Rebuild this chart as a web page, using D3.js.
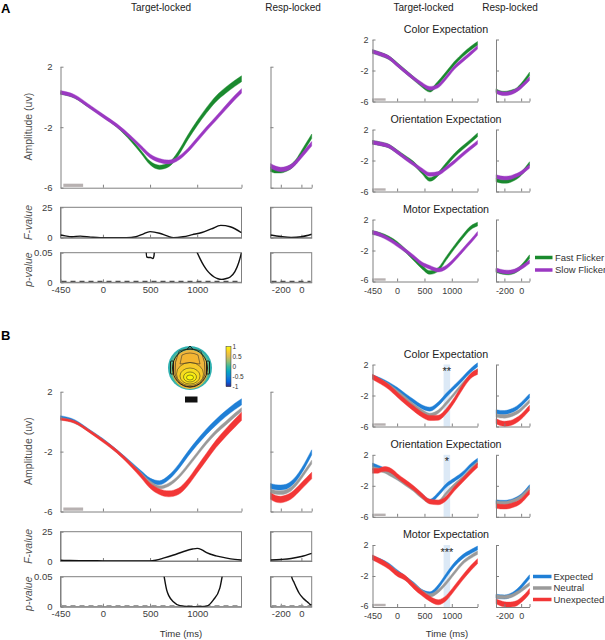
<!DOCTYPE html>
<html><head><meta charset="utf-8">
<script src="https://cdn.jsdelivr.net/npm/d3@7/dist/d3.min.js"></script>
<style>html,body{margin:0;padding:0;background:#fff;}</style>
</head><body>
<script>
// ================= DATA =================
// Panel A – main target-locked (ms, µV)
const tMain = [-450,-300,-150,0,150,300,400,500,600,700,800,900,1000,1100,1200,1300,1400,1470];
const fastMain = [0.24,-0.02,-0.64,-1.25,-1.94,-2.87,-3.6,-4.36,-4.65,-4.47,-3.73,-2.68,-1.73,-0.87,-0.12,0.43,0.9,1.2];
const slowMain = [0.3,0.03,-0.6,-1.25,-1.9,-2.7,-3.3,-3.9,-4.2,-4.3,-4.06,-3.53,-2.82,-2.1,-1.42,-0.72,-0.03,0.4];
const fastMainSem = [0.06,0.06,0.06,0.07,0.08,0.09,0.1,0.12,0.14,0.14,0.15,0.16,0.17,0.18,0.19,0.2,0.2,0.2];
const slowMainSem = [0.12,0.12,0.12,0.12,0.12,0.12,0.12,0.13,0.13,0.13,0.13,0.13,0.14,0.14,0.14,0.15,0.15,0.15];
// response-locked
const tResp = [-300,-250,-200,-150,-100,-50,0,50,100];
const fastResp = [-4.78,-4.88,-4.88,-4.78,-4.6,-4.25,-3.7,-3.15,-2.6];
const slowResp = [-4.55,-4.72,-4.8,-4.75,-4.6,-4.3,-3.9,-3.5,-3.1];
// F and p statistics, panel A
const tFA = [-450,-400,-330,-240,-130,-30,100,250,350,420,500,600,680,750,850,950,1050,1150,1250,1350,1470];
const fA = [2.2,1.5,0.8,1.3,0.5,0,0,0,0.8,2.8,5,3.7,1.5,0,0.8,2.5,4.3,7.2,10.1,9,4.1];
const tFRespA = [-300,-200,-100,0,100];
const fRespA = [2.2,1.0,0.3,0.8,2.8];
const tPA1 = [455,464,480,505,530,542,550];
const pA1 = [0.065,0.043,0.042,0.042,0.040,0.045,0.065];
const tPA2 = [995,1030,1070,1100,1140,1180,1220,1260,1300,1350,1400,1440,1470];
const pA2 = [0.052,0.04,0.028,0.021,0.014,0.009,0.006,0.005,0.006,0.009,0.018,0.033,0.05];
// Panel A – right column (by expectation type)
const tRight = [-450,-300,-150,0,150,300,450,600,750,900,1050,1200,1350,1470];
const colorFast = [0.45,0.1,-0.35,-1.2,-2.1,-3.0,-3.9,-4.55,-3.6,-2.35,-1.05,0.0,0.9,1.5];
const colorSlow = [0.45,0.1,-0.35,-1.25,-2.15,-3.0,-3.75,-4.3,-4.0,-2.9,-1.6,-0.65,0.25,1.0];
const orientFast = [0.35,0.15,-0.15,-0.85,-1.6,-2.35,-3.45,-4.45,-3.75,-2.5,-1.3,-0.35,0.55,1.3];
const orientSlow = [0.35,0.15,-0.15,-0.9,-1.7,-2.45,-3.2,-3.8,-3.67,-2.98,-2.15,-1.22,-0.35,0.35];
const motorFast = [0.33,0.05,-0.4,-1.07,-2.0,-3.05,-4.1,-4.84,-4.45,-3.0,-1.55,-0.2,0.95,1.4];
const motorSlow = [0.33,0.0,-0.55,-1.25,-2.0,-2.82,-3.7,-4.18,-4.53,-4.14,-3.15,-1.97,-0.8,0.2];
const colorRespFast = [-4.58,-4.85,-4.92,-4.85,-4.7,-4.45,-3.9,-3.2,-2.45];
const colorRespSlow = [-4.71,-4.92,-5.0,-4.95,-4.8,-4.5,-4.1,-3.6,-3.05];
const orientRespFast = [-4.5,-4.65,-4.7,-4.65,-4.45,-4.15,-3.7,-3.1,-2.4];
const orientRespSlow = [-4.06,-4.22,-4.28,-4.25,-4.1,-3.9,-3.6,-3.2,-2.75];
const motorRespFast = [-4.6,-4.75,-4.85,-4.9,-4.8,-4.55,-4.1,-3.5,-2.8];
const motorRespSlow = [-4.5,-4.65,-4.75,-4.78,-4.7,-4.5,-4.2,-3.85,-3.45];

// Panel B – main
const expMain = [0.32,0.05,-0.57,-1.22,-1.98,-2.8,-3.37,-3.9,-4.08,-3.72,-3.03,-2.17,-1.38,-0.66,-0.04,0.52,1.02,1.32];
const neuMain = [0.21,-0.05,-0.61,-1.25,-2.0,-2.85,-3.45,-4.05,-4.38,-4.2,-3.7,-2.96,-2.16,-1.37,-0.68,-0.12,0.44,0.8];
const unexpMain = [0.17,-0.02,-0.61,-1.28,-2.0,-2.9,-3.57,-4.28,-4.68,-4.82,-4.66,-4.06,-3.2,-2.33,-1.48,-0.76,-0.1,0.35];
const expMainSem = [0.08,0.08,0.08,0.09,0.1,0.11,0.12,0.13,0.14,0.15,0.16,0.17,0.18,0.19,0.2,0.2,0.21,0.21];
const neuMainSem = [0.07,0.07,0.07,0.08,0.08,0.09,0.09,0.1,0.1,0.11,0.11,0.12,0.12,0.12,0.13,0.13,0.13,0.13];
const unexpMainSem = [0.08,0.08,0.09,0.1,0.11,0.13,0.15,0.17,0.19,0.2,0.21,0.22,0.23,0.24,0.25,0.26,0.27,0.28];
const expResp = [-4.3,-4.38,-4.4,-4.35,-4.15,-3.8,-3.3,-2.7,-2.05];
const neuResp = [-4.63,-4.72,-4.74,-4.68,-4.5,-4.15,-3.7,-3.2,-2.7];
const unexpResp = [-4.97,-5.15,-5.2,-5.12,-4.95,-4.65,-4.3,-3.95,-3.6];
const tFB = [-450,-350,-250,-150,0,200,400,500,560,650,750,850,950,1000,1050,1100,1200,1300,1400,1470];
const fB = [0.6,0.4,0.3,0.3,0.1,0,0,0,0.6,2.6,5.1,7.9,10.2,10.8,9.5,7.1,4.4,2.7,1.4,0.85];
const tFRespB = [-300,-200,-100,0,100];
const fRespB = [0.85,1.3,2.1,3.8,6.5];
const tPB = [640,655,676,700,747,817,900,958,1030,1100,1170,1240,1270];
const pB = [0.06,0.045,0.028,0.018,0.0083,0.0017,0.0003,0,0.0002,0.001,0.011,0.031,0.055];
const tPRespB = [-105,-95,-70,-47,-20,17,50,67,83,100];
const pRespB = [0.06,0.05,0.04,0.031,0.022,0.014,0.009,0.0067,0.004,0.003];
// Panel B – right column
const colorExp = [0.41,0.0,-0.55,-1.2,-2.0,-2.75,-3.46,-3.76,-3.1,-1.95,-0.9,0.16,1.25,1.95];
const colorNeu = [0.41,-0.1,-0.7,-1.5,-2.35,-3.25,-4.0,-4.5,-4.1,-3.0,-1.76,-0.5,0.58,1.25];
const colorUnexp = [0.41,-0.2,-0.9,-1.87,-2.8,-3.66,-4.45,-4.9,-4.87,-4.0,-2.56,-0.85,0.55,1.05];
const tOrientB = [-450,-350,-280,-220,-150,-80,0,150,300,450,600,750,900,1050,1200,1350,1470];
const orientExp = [0.7,0.42,0.22,0.04,-0.27,-0.57,-0.94,-1.6,-2.32,-3.22,-3.97,-3.1,-1.94,-1.2,-0.43,0.65,1.3];
const orientNeu = [0.27,0.1,-0.02,-0.16,-0.44,-0.72,-1.04,-1.77,-2.5,-3.43,-4.05,-4.06,-2.98,-1.9,-1.0,0.15,0.95];
const orientUnexp = [-0.08,-0.08,0.1,0.18,0.08,-0.2,-0.7,-1.5,-2.28,-3.22,-4.05,-4.15,-3.6,-2.35,-1.25,-0.15,0.65];
const motorExp = [0.39,-0.05,-0.6,-1.45,-2.25,-3.05,-3.98,-4.3,-3.4,-1.9,-0.5,0.5,1.15,1.6];
const motorNeu = [0.39,-0.1,-0.7,-1.54,-2.3,-3.1,-3.98,-4.5,-3.96,-2.87,-1.55,-0.3,0.5,1.0];
const motorUnexp = [0.39,-0.15,-0.8,-1.7,-2.25,-3.3,-4.2,-4.95,-5.39,-4.83,-3.55,-2.2,-0.95,-0.1];
const colorRespExp = [-4.1,-4.18,-4.2,-4.1,-3.9,-3.6,-3.15,-2.6,-2.05];
const colorRespNeu = [-4.6,-4.68,-4.7,-4.62,-4.45,-4.2,-3.8,-3.3,-2.75];
const colorRespUnexp = [-5.3,-5.55,-5.65,-5.6,-5.45,-5.15,-4.75,-4.2,-3.6];
const orientRespExp = [-4.05,-4.1,-4.12,-4.05,-3.9,-3.65,-3.3,-2.75,-2.1];
const orientRespNeu = [-4.15,-4.2,-4.22,-4.15,-4.0,-3.75,-3.4,-2.9,-2.3];
const orientRespUnexp = [-4.6,-4.68,-4.7,-4.65,-4.5,-4.3,-3.95,-3.4,-2.8];
const motorRespExp = [-4.6,-4.68,-4.7,-4.6,-4.35,-3.95,-3.4,-2.75,-2.1];
const motorRespNeu = [-4.65,-4.7,-4.72,-4.65,-4.5,-4.2,-3.85,-3.45,-3.05];
const motorRespUnexp = [-5.25,-5.5,-5.65,-5.7,-5.65,-5.5,-5.1,-4.6,-3.95];

const sigWindow = [850, 970];
const sigStars = ["**", "*", "***"];
const baselineWin = [-420, -210];
const panelTitles = ["Color Expectation", "Orientation Expectation", "Motor Expectation"];
const legendA = ["Fast Flicker", "Slow Flicker"];
const legendB = ["Expected", "Neutral", "Unexpected"];
const yTicks = [-6, -2, 2];
const cbTicks = [1, 0.5, 0, -0.5, -1];

// ================= STYLE =================
const FONT = "'Liberation Sans', Arial, Helvetica, sans-serif";
const AX = "#808080", TXT = "#404040";
const C = {fast:"#1a8a2e", slow:"#9b38c2", exp:"#1f7fd6", neu:"#9a9a9a", unexp:"#f23636"};

const svg = d3.select("body").append("svg").attr("width",605).attr("height",640)
  .style("display","block").style("font-family",FONT);

function sc(x0,x1,yTop,yBot,xd,yd){
  return {x:d3.scaleLinear().domain(xd).range([x0,x1]), y:d3.scaleLinear().domain(yd).range([yBot,yTop]), x0,x1,yTop,yBot};
}
function styleAxis(g,fs){
  g.attr("font-family",FONT).attr("font-size",null);
  g.select(".domain").attr("stroke",AX);
  g.selectAll(".tick line").attr("stroke",AX);
  g.selectAll(".tick text").attr("fill",TXT).style("font-size",(fs||9.5)+"px");
}
const noLab = () => "";
const lab = d => String(d);
function leftAxis(s, vals, fmt, pad, fs){
  const g = svg.append("g").attr("transform",`translate(${s.x0},0)`)
    .call(d3.axisLeft(s.y).tickValues(vals).tickSize(-3).tickSizeOuter(0).tickPadding(pad||5).tickFormat(fmt||noLab));
  styleAxis(g,fs); return g;
}
function bottomAxis(s, vals, fmt, pad, fs){
  const g = svg.append("g").attr("transform",`translate(0,${s.yBot})`)
    .call(d3.axisBottom(s.x).tickValues(vals).tickSize(-3).tickSizeOuter(0).tickPadding(pad||5).tickFormat(fmt||noLab));
  styleAxis(g,fs); return g;
}
function box(s){
  svg.append("rect").attr("x",s.x0).attr("y",s.yTop).attr("width",s.x1-s.x0).attr("height",s.yBot-s.yTop)
    .attr("fill","none").attr("stroke",AX);
}
function band(s, t, m, e, color){
  const data = t.map((d,i)=>({t:d, m:m[i], e:Array.isArray(e)?e[i]:e}));
  const a = d3.area().x(d=>s.x(d.t)).y0(d=>s.y(d.m-d.e)).y1(d=>s.y(d.m+d.e)).curve(d3.curveMonotoneX);
  svg.append("path").datum(data).attr("d",a).attr("fill",color).attr("stroke",color).attr("stroke-width",0.4);
}
let clipN = 0;
function clipFor(s){
  const id = "clip"+(clipN++);
  svg.append("clipPath").attr("id",id).append("rect").attr("x",s.x0).attr("y",s.yTop)
    .attr("width",s.x1-s.x0).attr("height",s.yBot-s.yTop);
  return id;
}
function statLine(s, t, v, clipId){
  const data = t.map((d,i)=>({t:d, v:v[i]}));
  const l = d3.line().x(d=>s.x(d.t)).y(d=>s.y(d.v)).curve(d3.curveMonotoneX);
  const p = svg.append("path").datum(data).attr("d",l).attr("fill","none").attr("stroke","#111").attr("stroke-width",1.4);
  if (clipId) p.attr("clip-path",`url(#${clipId})`);
}
function baselineBar(s, h){
  svg.append("rect").attr("x",s.x(baselineWin[0])).attr("width",s.x(baselineWin[1])-s.x(baselineWin[0]))
    .attr("y",s.yBot-h-0.8).attr("height",h).attr("fill","#b7b1b1");
}
function zeroDash(s, color){
  svg.append("line").attr("x1",s.x0+1).attr("x2",s.x1-1).attr("y1",s.yBot-1).attr("y2",s.yBot-1)
    .attr("stroke",color).attr("stroke-width",1.2).attr("stroke-dasharray","5,4");
}
function txt(x,y,s,o){
  o=o||{};
  const t = svg.append("text").attr("x",x).attr("y",y).text(s).attr("fill",o.fill||"#222")
    .style("font-size",(o.size||10)+"px").attr("text-anchor",o.anchor||"middle");
  if(o.weight) t.style("font-weight",o.weight);
  if(o.italic) t.style("font-style","italic");
  if(o.rot) t.attr("transform",`rotate(-90,${x},${y})`).attr("dominant-baseline","central");
  return t;
}

// ================= HEADERS =================
txt(1,13,"A",{size:13,weight:"bold",anchor:"start",fill:"#000"});
txt(1,340,"B",{size:13,weight:"bold",anchor:"start",fill:"#000"});
txt(161,11,"Target-locked",{size:10});
txt(293,11,"Resp-locked",{size:10});
txt(423.5,11,"Target-locked",{size:10});
txt(510,11,"Resp-locked",{size:10});

// ================= GENERIC SECTION =================
function section(off, mainSeries, respSeries, fT, fV, fRT, fRV, pSegs, pRespSegs, dashColor){
  const mTop = 66.7+off, mBot = 187.7+off - (off?1.2:0);
  const main = sc(60.5,241.5,mTop,mBot,[-450,1470],[-6,2]);
  const resp = sc(270.5,311.7,mTop,mBot,[-300,100],[-6,2]);
  baselineBar(main,3.2);
  mainSeries.forEach(d=>band(main,tMain,d.v,d.e,d.c));
  respSeries.forEach(d=>band(resp,tResp,d.v,d.e,d.c));
  leftAxis(main,yTicks,lab,8);
  bottomAxis(main,[0,500,1000,1470]);
  leftAxis(resp,yTicks);
  bottomAxis(resp,[-200,0,100]);
  txt(28,main.y(-2)-0.5,"Amplitude (uv)",{size:10.5,rot:true,fill:"#505050"});

  const fTop = off? 531.7 : 207.3, fBot = off? 561 : 237.7;
  const pTop = off? 576.7 : 252.7, pBot = off? 606.7 : 282.3;
  const fM = sc(60.5,241.5,fTop,fBot,[-450,1470],[0,25]);
  const fR = sc(270.5,311.7,fTop,fBot,[-300,100],[0,25]);
  const pM = sc(60.5,241.5,pTop,pBot,[-450,1470],[0,0.05]);
  const pR = sc(270.5,311.7,pTop,pBot,[-300,100],[0,0.05]);
  [fM,fR,pM,pR].forEach(box);
  leftAxis(fM,[0,25],lab,8); leftAxis(pM,[0,0.05],lab,8);
  leftAxis(fR,[0,25]); leftAxis(pR,[0,0.05]);
  bottomAxis(fM,[0,500,1000]); bottomAxis(fR,[-200,0]);
  bottomAxis(pM,[-450,0,500,1000],lab,4); bottomAxis(pR,[-200,0],lab,4);
  zeroDash(pM,dashColor); zeroDash(pR,dashColor);
  statLine(fM,fT,fV,clipFor(fM));
  statLine(fR,fRT,fRV,clipFor(fR));
  const cM = clipFor(pM), cR = clipFor(pR);
  pSegs.forEach(sg=>statLine(pM,sg[0],sg[1],cM));
  pRespSegs.forEach(sg=>statLine(pR,sg[0],sg[1],cR));
  txt(28,(fTop+fBot)/2,"F-value",{size:10.5,rot:true,italic:true,fill:"#505050"});
  txt(28,(pTop+pBot)/2+2,"p-value",{size:10.5,rot:true,italic:true,fill:"#505050"});
}

function rightColumn(tops, groups, tgtTimes, stars){
  tops.forEach((top,k)=>{
    const tg = sc(372.5,477.5,top,top+62,[-450,1470],[-6,2]);
    const rp = sc(496,529.5,top,top+62,[-300,100],[-6,2]);
    txt(446,top-7,panelTitles[k],{size:10.7,fill:"#222"});
    if(stars){
      svg.append("rect").attr("x",tg.x(sigWindow[0])).attr("width",tg.x(sigWindow[1])-tg.x(sigWindow[0]))
        .attr("y",tg.yTop).attr("height",62).attr("fill","#dce9f6");
      txt(tg.x((sigWindow[0]+sigWindow[1])/2),top+10.5,stars[k],{size:11,fill:"#222"});
    }
    baselineBar(tg,2.4);
    groups[k].tgt.forEach(d=>band(tg,tgtTimes[k],d.v,d.e,d.c));
    groups[k].resp.forEach(d=>band(rp,tResp,d.v,d.e,d.c));
    const ya = leftAxis(tg,yTicks,lab,4,9);
    leftAxis(rp,yTicks);
    const last = k===tops.length-1;
    if(last){
      // lift the lowest y label a little so it clears the x tick labels below it
      ya.selectAll(".tick text").filter(d=>d===-6).attr("dy","0.12em");
    }
    bottomAxis(tg,[-450,0,500,1000,1470], last? (d=>d===1470?"":String(d)) : noLab, 6, 9);
    bottomAxis(rp,[-200,0,100], last? (d=>d===100?"":String(d)) : noLab, 6, 9);
  });
}

// ================= PANEL A =================
section(0,
  [{v:fastMain,e:fastMainSem,c:C.fast},{v:slowMain,e:slowMainSem,c:C.slow}],
  [{v:fastResp,e:0.15,c:C.fast},{v:slowResp,e:0.15,c:C.slow}],
  tFA,fA,tFRespA,fRespA,[[tPA1,pA1],[tPA2,pA2]],[],"#505050");

rightColumn([39.5,129.5,219.5],[
  {tgt:[{v:colorFast,e:0.24,c:C.fast},{v:colorSlow,e:0.24,c:C.slow}], resp:[{v:colorRespFast,e:0.24,c:C.fast},{v:colorRespSlow,e:0.24,c:C.slow}]},
  {tgt:[{v:orientFast,e:0.24,c:C.fast},{v:orientSlow,e:0.24,c:C.slow}], resp:[{v:orientRespFast,e:0.24,c:C.fast},{v:orientRespSlow,e:0.24,c:C.slow}]},
  {tgt:[{v:motorFast,e:0.24,c:C.fast},{v:motorSlow,e:0.24,c:C.slow}], resp:[{v:motorRespFast,e:0.24,c:C.fast},{v:motorRespSlow,e:0.24,c:C.slow}]}
],[tRight,tRight,tRight],null);

// legend A
[C.fast,C.slow].forEach((c,i)=>{
  const y = 257.5 + i*12.5;
  svg.append("line").attr("x1",535).attr("x2",552.5).attr("y1",y).attr("y2",y).attr("stroke",c).attr("stroke-width",3.5);
  txt(555,y+3.3,legendA[i],{size:9.5,anchor:"start",fill:"#333"});
});

// ================= PANEL B =================
section(325,
  [{v:expMain,e:expMainSem,c:C.exp},{v:neuMain,e:neuMainSem,c:C.neu},{v:unexpMain,e:unexpMainSem,c:C.unexp}],
  [{v:expResp,e:0.17,c:C.exp},{v:neuResp,e:0.13,c:C.neu},{v:unexpResp,e:0.22,c:C.unexp}],
  tFB,fB,tFRespB,fRespB,[[tPB,pB]],[[tPRespB,pRespB]],"#9a9a9a");

rightColumn([364.5,454.8,545],[
  {tgt:[{v:colorExp,e:0.26,c:C.exp},{v:colorNeu,e:0.22,c:C.neu},{v:colorUnexp,e:0.33,c:C.unexp}],
   resp:[{v:colorRespExp,e:0.26,c:C.exp},{v:colorRespNeu,e:0.22,c:C.neu},{v:colorRespUnexp,e:0.33,c:C.unexp}]},
  {tgt:[{v:orientExp,e:0.24,c:C.exp},{v:orientNeu,e:0.22,c:C.neu},{v:orientUnexp,e:0.3,c:C.unexp}],
   resp:[{v:orientRespExp,e:0.24,c:C.exp},{v:orientRespNeu,e:0.22,c:C.neu},{v:orientRespUnexp,e:0.3,c:C.unexp}]},
  {tgt:[{v:motorExp,e:0.26,c:C.exp},{v:motorNeu,e:0.22,c:C.neu},{v:motorUnexp,e:0.33,c:C.unexp}],
   resp:[{v:motorRespExp,e:0.26,c:C.exp},{v:motorRespNeu,e:0.22,c:C.neu},{v:motorRespUnexp,e:0.33,c:C.unexp}]}
],[tRight,tOrientB,tRight],sigStars);

// legend B
[C.exp,C.neu,C.unexp].forEach((c,i)=>{
  const y = 576.5 + i*11.5;
  svg.append("line").attr("x1",533).attr("x2",551.5).attr("y1",y).attr("y2",y).attr("stroke",c).attr("stroke-width",3.5);
  txt(553.5,y+3.3,legendB[i],{size:9.5,anchor:"start",fill:"#333"});
});

// Time labels
txt(181,637,"Time (ms)",{size:9.5,fill:"#333"});
txt(447,637,"Time (ms)",{size:9.5,fill:"#333"});

// ================= TOPOGRAPHY =================
(function(){
  const cx=190, cy=368;
  const g = svg.append("g");
  g.append("circle").attr("cx",cx).attr("cy",cy).attr("r",22).attr("fill","#2fb0b0");
  g.append("ellipse").attr("cx",cx).attr("cy",cy+0.5).attr("rx",20).attr("ry",20.5).attr("fill","#5fbb8c");
  g.append("ellipse").attr("cx",cx).attr("cy",cy+1.5).attr("rx",18).attr("ry",19.5).attr("fill","#efb53c");
  g.append("ellipse").attr("cx",cx).attr("cy",cy-4).attr("rx",9).attr("ry",11).attr("fill","#f4b531");
  g.append("ellipse").attr("cx",cx).attr("cy",cy+6).attr("rx",13.5).attr("ry",11.5).attr("fill","#f6c92a").attr("stroke","#222").attr("stroke-width",0.5);
  g.append("ellipse").attr("cx",cx).attr("cy",cy+8).attr("rx",10).attr("ry",8).attr("fill","#f7dc20").attr("stroke","#222").attr("stroke-width",0.5);
  g.append("ellipse").attr("cx",cx).attr("cy",cy+9).attr("rx",6.5).attr("ry",5).attr("fill","#f9ec12").attr("stroke","#222").attr("stroke-width",0.5);
  g.append("ellipse").attr("cx",cx).attr("cy",cy+9.5).attr("rx",3.5).attr("ry",2.5).attr("fill","#fbf80c").attr("stroke","#222").attr("stroke-width",0.5);
  g.append("path").attr("d",`M${cx-11},${cy-17} Q${cx},${cy-21} ${cx+11},${cy-17} Q${cx+16},${cy-6} ${cx+15},${cy+6} Q${cx+12},${cy+18} ${cx},${cy+19} Q${cx-12},${cy+18} ${cx-15},${cy+6} Q${cx-16},${cy-6} ${cx-11},${cy-17} Z`)
    .attr("fill","none").attr("stroke","#222").attr("stroke-width",0.6);
  g.append("path").attr("d",`M${cx-8},${cy-13} Q${cx},${cy-17} ${cx+8},${cy-13} L${cx+10},${cy-4} Q${cx},${cy-7} ${cx-10},${cy-4} Z`)
    .attr("fill","none").attr("stroke","#222").attr("stroke-width",0.5);
  g.append("ellipse").attr("cx",cx).attr("cy",cy).attr("rx",17.5).attr("ry",19).attr("fill","none").attr("stroke","#111").attr("stroke-width",0.9);
  g.append("rect").attr("x",cx-19.5).attr("y",cy-7).attr("width",3).attr("height",13).attr("rx",1).attr("fill","none").attr("stroke","#111").attr("stroke-width",0.9);
  g.append("rect").attr("x",cx+16.5).attr("y",cy-7).attr("width",3).attr("height",13).attr("rx",1).attr("fill","none").attr("stroke","#111").attr("stroke-width",0.9);
  g.append("path").attr("d",`M${cx-3},${cy-18.6} L${cx},${cy-22} L${cx+3},${cy-18.6}`).attr("fill","none").attr("stroke","#111").attr("stroke-width",0.9);
  const defs = svg.append("defs");
  const lg = defs.append("linearGradient").attr("id","parula").attr("x1",0).attr("y1",1).attr("x2",0).attr("y2",0);
  ["#352a87","#0363e1","#1485d4","#06a7c6","#38b99e","#92bf73","#d9ba56","#fcce2e","#f9fb0e"].forEach((c,i)=>
    lg.append("stop").attr("offset",(i/8*100)+"%").attr("stop-color",c));
  const cbY = d3.scaleLinear().domain([-1,1]).range([386.7,346.5]);
  svg.append("rect").attr("x",226).attr("y",cbY(1)).attr("width",5).attr("height",cbY(-1)-cbY(1))
    .attr("fill","url(#parula)").attr("stroke","#333").attr("stroke-width",0.5);
  cbTicks.forEach(v=>txt(232.5,cbY(v)+2.2,String(v),{size:6.5,anchor:"start",fill:"#333"}));
  svg.append("rect").attr("x",185).attr("y",396.5).attr("width",12.5).attr("height",6).attr("fill","#111");
})();
</script>
</body></html>
